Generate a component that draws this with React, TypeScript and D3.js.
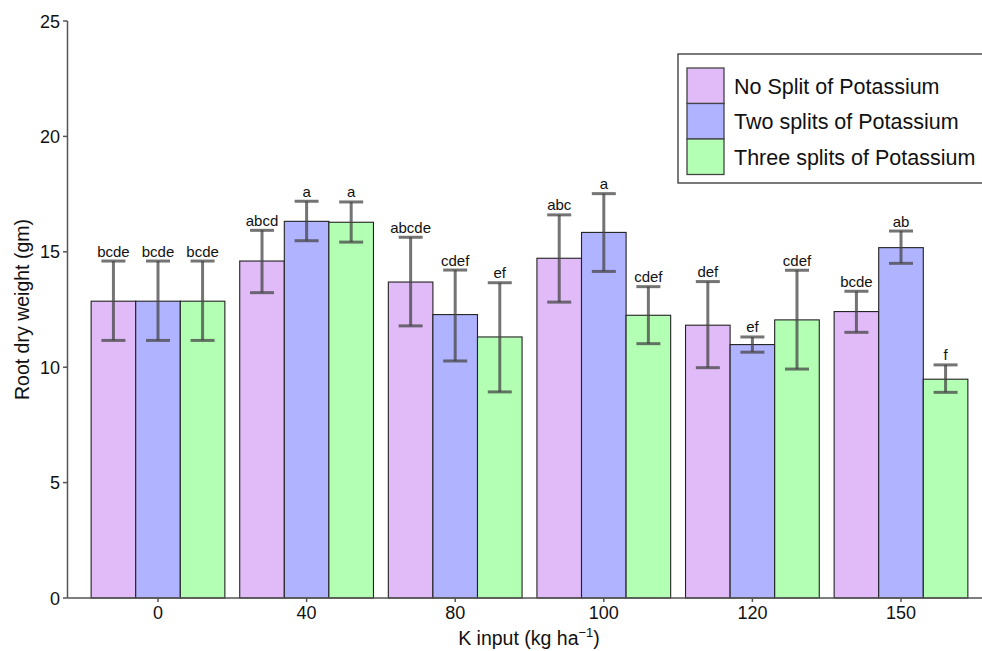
import React from "react";
import * as d3 from "d3";

const categories = ["0", "40", "80", "100", "120", "150"];
const seriesNames = ["No Split of Potassium", "Two splits of Potassium", "Three splits of Potassium"];
const seriesColors = ["#E0BBF8", "#B0B3FF", "#B3FFB3"];

const meanNoSplit = [12.86, 14.6, 13.69, 14.72, 11.82, 12.41];
const meanTwoSplits = [12.86, 16.32, 12.28, 15.84, 10.98, 15.18];
const meanThreeSplits = [12.86, 16.28, 11.31, 12.25, 12.05, 9.48];

const lowNoSplit = [11.16, 13.23, 11.79, 12.82, 9.98, 11.51];
const highNoSplit = [14.6, 15.93, 15.63, 16.6, 13.71, 13.29];
const lowTwoSplits = [11.16, 15.48, 10.27, 14.15, 10.65, 14.5];
const highTwoSplits = [14.6, 17.19, 14.21, 17.52, 11.31, 15.9];
const lowThreeSplits = [11.16, 15.42, 8.93, 11.02, 9.92, 8.91];
const highThreeSplits = [14.6, 17.16, 13.66, 13.49, 14.2, 10.1];

const lettersNoSplit = ["bcde", "abcd", "abcde", "abc", "def", "bcde"];
const lettersTwoSplits = ["bcde", "a", "cdef", "a", "ef", "ab"];
const lettersThreeSplits = ["bcde", "a", "ef", "cdef", "cdef", "f"];

const yTicks = [0, 5, 10, 15, 20, 25];

const W = 982;
const H = 651;
const FONT = "'Liberation Sans', Arial, sans-serif";

export default function App() {
  const means = [meanNoSplit, meanTwoSplits, meanThreeSplits];
  const lows = [lowNoSplit, lowTwoSplits, lowThreeSplits];
  const highs = [highNoSplit, highTwoSplits, highThreeSplits];
  const letters = [lettersNoSplit, lettersTwoSplits, lettersThreeSplits];

  const y = d3.scaleLinear().domain([0, 25]).range([598, 21]);
  const x = d3.scaleBand().domain(categories).range([83.7, 975.3]).paddingInner(0).paddingOuter(0);
  const groupW = x.bandwidth() * 0.9;
  const x1 = d3.scaleBand().domain(["0", "1", "2"]).range([0, groupW]);

  const axisColor = "#555";
  const errColor = "rgba(70,70,70,0.75)";

  return (
    <svg width={W} height={H} style={{ position: "absolute", left: 0, top: 0, background: "#fff" }} fontFamily={FONT}>
      {/* bars */}
      {categories.map((c, i) => {
        const gx = (x(c) as number) + (x.bandwidth() - groupW) / 2;
        return (
          <g key={c}>
            {[0, 1, 2].map((s) => (
              <rect
                key={s}
                x={gx + (x1(String(s)) as number)}
                y={y(means[s][i])}
                width={x1.bandwidth()}
                height={y(0) - y(means[s][i])}
                fill={seriesColors[s]}
                stroke="#222"
                strokeWidth={1.1}
              />
            ))}
          </g>
        );
      })}
      {/* error bars and letters */}
      {categories.map((c, i) => {
        const gx = (x(c) as number) + (x.bandwidth() - groupW) / 2;
        return (
          <g key={"e" + c}>
            {[0, 1, 2].map((s) => {
              const cx = gx + (x1(String(s)) as number) + x1.bandwidth() / 2;
              const yt = y(highs[s][i]);
              const yb = y(lows[s][i]);
              return (
                <g key={s}>
                  <line x1={cx} x2={cx} y1={yt} y2={yb} stroke={errColor} strokeWidth={3} />
                  <line x1={cx - 12} x2={cx + 12} y1={yt} y2={yt} stroke={errColor} strokeWidth={3} />
                  <line x1={cx - 12} x2={cx + 12} y1={yb} y2={yb} stroke={errColor} strokeWidth={3} />
                  <text x={cx} y={yt - 4.5} textAnchor="middle" fontSize={15} fill="#111">
                    {letters[s][i]}
                  </text>
                </g>
              );
            })}
          </g>
        );
      })}
      {/* y axis */}
      <line x1={67.5} x2={67.5} y1={y(25)} y2={y(0)} stroke={axisColor} strokeWidth={1.5} />
      {yTicks.map((t) => (
        <g key={t}>
          <line x1={63} x2={67.5} y1={y(t)} y2={y(t)} stroke={axisColor} strokeWidth={1.5} />
          <text x={60} y={y(t) + 6.5} textAnchor="end" fontSize={18} fill="#111">
            {t}
          </text>
        </g>
      ))}
      {/* x axis */}
      <line x1={67.5} x2={W} y1={y(0)} y2={y(0)} stroke={axisColor} strokeWidth={1.5} />
      {categories.map((c) => {
        const cx = (x(c) as number) + x.bandwidth() / 2;
        return (
          <g key={"t" + c}>
            <line x1={cx} x2={cx} y1={y(0)} y2={y(0) + 4} stroke={axisColor} strokeWidth={1.5} />
            <text x={cx} y={619} textAnchor="middle" fontSize={18} fill="#111">
              {c}
            </text>
          </g>
        );
      })}
      {/* axis titles */}
      <text x={529} y={645} textAnchor="middle" fontSize={19.5} fill="#111">
        K input (kg ha
        <tspan dy={-8} fontSize={13}>−1</tspan>
        <tspan dy={8}>)</tspan>
      </text>
      <text transform={`translate(29,${y(12.5)}) rotate(-90)`} textAnchor="middle" fontSize={19.5} fill="#111">
        Root dry weight (gm)
      </text>
      {/* legend */}
      <rect x={678} y={54} width={320} height={129} fill="#fff" stroke="#333" strokeWidth={1.3} />
      {seriesNames.map((n, s) => (
        <g key={n}>
          <rect x={687} y={68 + s * 35.5} width={37} height={35.5} fill={seriesColors[s]} stroke="#444" strokeWidth={1.3} />
          <text x={734} y={68 + s * 35.5 + 25.5} fontSize={21.5} fill="#111">
            {n}
          </text>
        </g>
      ))}
    </svg>
  );
}
